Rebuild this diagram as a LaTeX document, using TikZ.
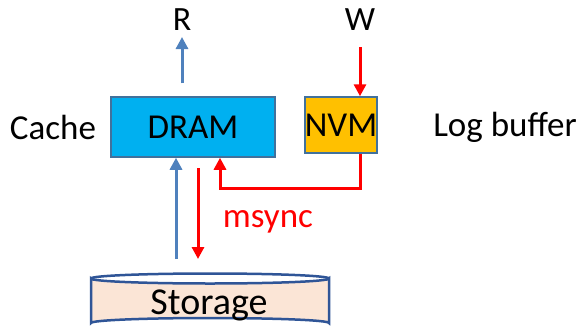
\documentclass[tikz,border=0pt]{standalone}
\usepackage{fontspec}
\setmainfont{Carlito}
\usetikzlibrary{arrows.meta}
\definecolor{dramfill}{HTML}{00B0F0}
\definecolor{nvmfill}{HTML}{FFC000}
\definecolor{boxline}{HTML}{41719C}
\definecolor{bluearrow}{HTML}{4F81BD}
\definecolor{redarrow}{HTML}{FF0000}
\definecolor{storfill}{HTML}{FBE5D6}
\definecolor{storline}{HTML}{2F5597}
\tikzset{
  bigtext/.style={font=\fontsize{35}{42}\selectfont, inner sep=0pt},
  membox/.style={draw=boxline, line width=1.5pt, bigtext},
  bluearr/.style={draw=bluearrow, line width=3pt, -{Triangle[width=12pt,length=12pt]}},
  redarr/.style={draw=redarrow, line width=3pt, -{Triangle[width=12pt,length=12pt]}},
}
\begin{document}
\begin{tikzpicture}[x=1pt,y=-1pt]
\useasboundingbox (0,0) rectangle (582,330);
% boxes
\node[membox, fill=dramfill, minimum width=164pt, minimum height=60pt] (dram) at (193,127) {DRAM};
\node[membox, fill=nvmfill, minimum width=72pt, minimum height=56pt] (nvm) at (341,125) {NVM};
\node[bigtext] (cache) at (53,127) {Cache};
\node[bigtext] (logbuf) at (505,127) {Log buffer};
\node[bigtext, font=\fontsize{34}{40}\selectfont] (R) at (182,20) {R};
\node[bigtext, font=\fontsize{34}{40}\selectfont] (W) at (360,20) {W};
% storage cylinder
\filldraw[fill=storfill, draw=storline, line width=2.5pt]
  (91,278.5) -- (91,323) arc[start angle=180, end angle=360, x radius=119, y radius=5] -- (329,278.5) arc[start angle=0, end angle=180, x radius=119, y radius=5] -- cycle;
\draw[storline, line width=2.5pt] (91,278.5) arc[start angle=180, end angle=360, x radius=119, y radius=5];
\node[bigtext, font=\fontsize{38}{44}\selectfont] (storage) at (209,305) {Storage};
% arrows
\coordinate (rstart) at (182,84);
\coordinate (rend) at (182,37);
\draw[bluearr] (dram.north -| rstart) ++(0,-13) -- (rend);
\coordinate (wstart) at (360,47);
\draw[redarr] (wstart) -- (wstart |- nvm.north);
\coordinate (upstart) at (176,259);
\draw[bluearr] (upstart) -- (upstart |- dram.south);
\coordinate (downstart) at (198,168);
\coordinate (downend) at (198,259);
\draw[redarr] (downstart) -- (downend);
\coordinate (bend) at (360,188);
\coordinate (ret) at (220,188);
\draw[redarr] (bend |- nvm.south) -- (bend) -- (ret) -- (ret |- dram.south);
\node[bigtext, text=redarrow] (msync) at (268,222) {msync};
\end{tikzpicture}
\end{document}
